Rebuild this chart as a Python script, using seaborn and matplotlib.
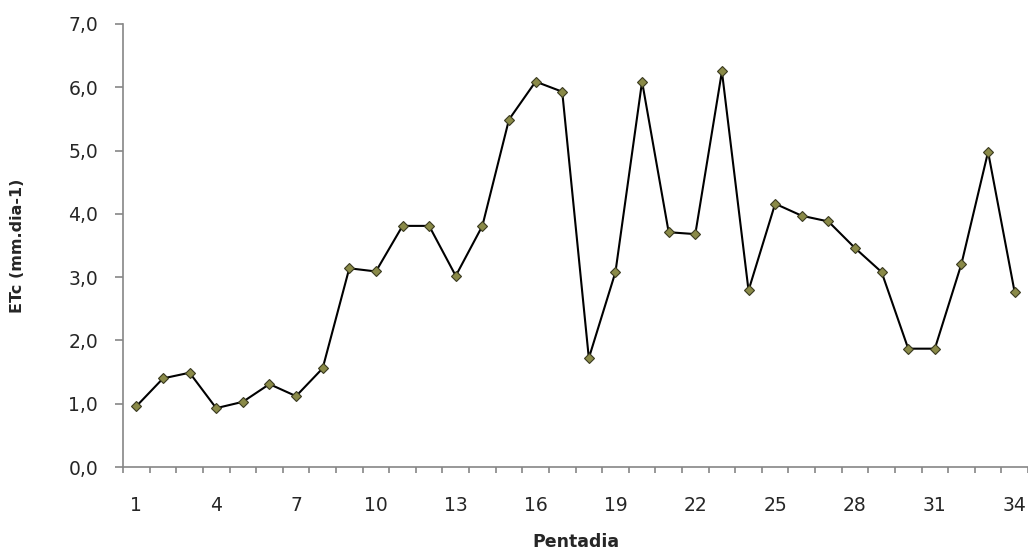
import matplotlib
matplotlib.use("Agg")
import matplotlib.pyplot as plt
import seaborn as sns
import pandas as pd
import numpy as np

pentadia = list(range(1, 35))
etc = [0.96, 1.40, 1.49, 0.93, 1.03, 1.31, 1.12, 1.56, 3.14, 3.09,
       3.81, 3.81, 3.02, 3.81, 5.49, 6.09, 5.93, 1.72, 3.08, 6.09,
       3.71, 3.68, 6.25, 2.79, 4.16, 3.97, 3.88, 3.46, 3.08, 1.87,
       1.87, 3.21, 4.98, 2.76]
xtick_labels = [1, 4, 7, 10, 13, 16, 19, 22, 25, 28, 31, 34]
ytick_values = [0, 1, 2, 3, 4, 5, 6, 7]

df = pd.DataFrame({"Pentadia": pentadia, "ETc": etc})

sns.set_style("white")
plt.rcParams['font.family'] = ['DejaVu Sans']

fig = plt.figure(figsize=(10.28, 5.54), dpi=100)
ax = fig.add_axes([0.1197, 0.157, 0.8803, 0.7997])

sns.lineplot(data=df, x="Pentadia", y="ETc", ax=ax, color="black", linewidth=1.5,
             marker="D", markersize=5.5, markerfacecolor="#8a8a48",
             markeredgecolor="#3a3a20", markeredgewidth=0.8)

ax.set_xlim(0.5, 34.5)
ax.set_ylim(0, 7)
ax.set_xticks(xtick_labels)
ax.set_xticklabels([str(v) for v in xtick_labels], fontsize=13.5)
ax.set_xticks(np.arange(0.5, 35.0, 1.0), minor=True)
ax.set_yticks(ytick_values)
ax.set_yticklabels([f"{v:.1f}".replace(".", ",") for v in ytick_values], fontsize=13.5)

gray = "#868686"
for s in ["top", "right"]:
    ax.spines[s].set_visible(False)
for s in ["left", "bottom"]:
    ax.spines[s].set_color(gray)
    ax.spines[s].set_linewidth(1.2)

ax.tick_params(axis="x", which="major", bottom=True, length=0, pad=21, labelcolor="#262626")
ax.tick_params(axis="x", which="minor", bottom=True, length=4.5, width=1.2, color=gray, direction="out")
ax.tick_params(axis="y", which="major", left=True, length=6, width=1.2, color=gray, direction="out",
               labelcolor="#262626", pad=12)

ax.set_xlabel("Pentadia", fontsize=12.5, fontweight="bold", color="#262626")
ax.set_ylabel("ETc (mm.dia-1)", fontsize=11.5, fontweight="bold", color="#262626")
ax.yaxis.set_label_coords(-0.108, 0.5)
ax.xaxis.set_label_coords(0.5, -0.149)
ax.grid(False)

fig.savefig("out.png", dpi=100)
